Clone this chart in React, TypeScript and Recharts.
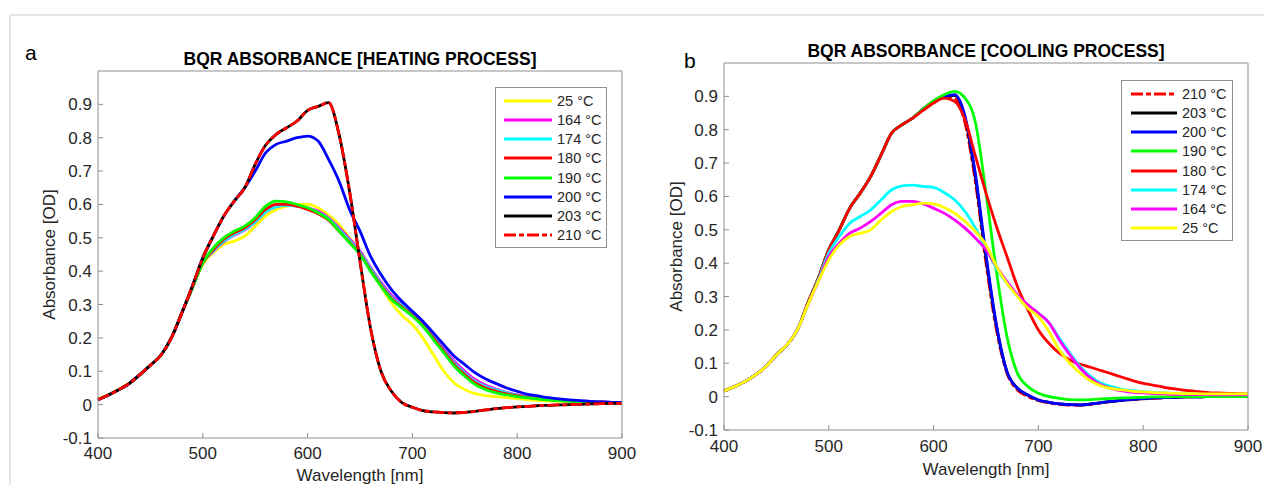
import { LineChart, Line, XAxis, YAxis, Legend } from 'recharts'

const wavelengths = [
  400, 410, 420, 430, 440, 450, 460, 470, 480, 490,
  500, 510, 520, 530, 540, 550, 560, 570, 580, 590,
  600, 610, 620, 630, 640, 650, 660, 670, 680, 690,
  700, 710, 720, 730, 740, 750, 760, 770, 780, 790,
  800, 810, 820, 830, 840, 850, 860, 870, 880, 890,
  900,
]

const xTicks = [400, 500, 600, 700, 800, 900]
const yTicks = [-0.1, 0, 0.1, 0.2, 0.3, 0.4, 0.5, 0.6, 0.7, 0.8, 0.9]

// heating process
const heat25 = [
  0.017, 0.03, 0.046, 0.065, 0.09, 0.118, 0.148, 0.2, 0.275, 0.35,
  0.42, 0.455, 0.48, 0.49, 0.505, 0.535, 0.565, 0.585, 0.595, 0.6,
  0.6, 0.59, 0.568, 0.54, 0.5, 0.46, 0.405, 0.355, 0.305, 0.268,
  0.24, 0.2, 0.15, 0.1, 0.065, 0.045, 0.033, 0.027, 0.024, 0.021,
  0.018, 0.015, 0.013, 0.011, 0.01, 0.009, 0.008, 0.007, 0.007, 0.006,
  0.006,
]
const heat164 = [
  0.015, 0.029, 0.045, 0.064, 0.09, 0.118, 0.148, 0.2, 0.275, 0.35,
  0.425, 0.46, 0.488, 0.508, 0.523, 0.547, 0.577, 0.593, 0.598, 0.595,
  0.59, 0.58, 0.56, 0.53, 0.497, 0.46, 0.412, 0.367, 0.328, 0.302,
  0.277, 0.247, 0.208, 0.168, 0.13, 0.1, 0.075, 0.058, 0.047, 0.037,
  0.029, 0.023, 0.019, 0.016, 0.013, 0.011, 0.01, 0.009, 0.008, 0.007,
  0.006,
]
const heat174 = [
  0.015, 0.029, 0.045, 0.064, 0.09, 0.118, 0.148, 0.2, 0.275, 0.35,
  0.425, 0.462, 0.49, 0.51, 0.525, 0.548, 0.578, 0.593, 0.597, 0.595,
  0.588, 0.576, 0.557, 0.525, 0.492, 0.456, 0.408, 0.362, 0.322, 0.297,
  0.272, 0.242, 0.203, 0.163, 0.124, 0.094, 0.069, 0.054, 0.044, 0.035,
  0.028, 0.022, 0.018, 0.015, 0.013, 0.011, 0.01, 0.009, 0.008, 0.007,
  0.006,
]
const heat180 = [
  0.015, 0.029, 0.045, 0.064, 0.09, 0.118, 0.148, 0.2, 0.275, 0.35,
  0.425, 0.465, 0.495, 0.515, 0.53, 0.555, 0.585, 0.6, 0.6, 0.595,
  0.585, 0.572, 0.553, 0.52, 0.487, 0.452, 0.403, 0.358, 0.318, 0.293,
  0.268, 0.238, 0.2, 0.16, 0.12, 0.09, 0.065, 0.05, 0.04, 0.032,
  0.026, 0.021, 0.018, 0.015, 0.013, 0.011, 0.01, 0.009, 0.008, 0.007,
  0.006,
]
const heat190 = [
  0.015, 0.029, 0.045, 0.064, 0.09, 0.118, 0.148, 0.2, 0.275, 0.35,
  0.425, 0.47, 0.5, 0.52, 0.535, 0.56, 0.595, 0.61, 0.608, 0.6,
  0.59, 0.575, 0.555, 0.52, 0.485, 0.45, 0.4, 0.355, 0.315, 0.29,
  0.265, 0.235, 0.195, 0.155, 0.115, 0.085, 0.06, 0.045, 0.035, 0.029,
  0.024, 0.02, 0.017, 0.014, 0.012, 0.01, 0.009, 0.008, 0.007, 0.006,
  0.006,
]
const heat200 = [
  0.015, 0.029, 0.045, 0.064, 0.09, 0.118, 0.148, 0.2, 0.275, 0.355,
  0.44, 0.505, 0.565, 0.61, 0.65, 0.7, 0.755, 0.78, 0.79, 0.8,
  0.805, 0.79, 0.735, 0.67, 0.585, 0.52, 0.445, 0.39, 0.345, 0.31,
  0.28, 0.25, 0.215, 0.18, 0.145, 0.12, 0.095, 0.077, 0.063, 0.05,
  0.04, 0.031, 0.026, 0.021, 0.017, 0.014, 0.012, 0.01, 0.008, 0.007,
  0.006,
]
const heat203 = [
  0.015, 0.029, 0.045, 0.064, 0.09, 0.118, 0.148, 0.2, 0.275, 0.355,
  0.44, 0.505, 0.565, 0.61, 0.65, 0.72, 0.778, 0.81, 0.83, 0.85,
  0.882, 0.894, 0.905, 0.81, 0.64, 0.43, 0.23, 0.1, 0.04, 0.006,
  -0.008, -0.018, -0.022, -0.024, -0.025, -0.023, -0.02, -0.016, -0.012, -0.009,
  -0.007, -0.005, -0.003, -0.002, -0.001, 0, 0.001, 0.002, 0.003, 0.004,
  0.004,
]
const heat210 = [
  0.015, 0.029, 0.045, 0.064, 0.09, 0.118, 0.148, 0.2, 0.275, 0.355,
  0.44, 0.505, 0.565, 0.61, 0.65, 0.72, 0.778, 0.81, 0.83, 0.85,
  0.882, 0.894, 0.905, 0.81, 0.64, 0.43, 0.23, 0.1, 0.04, 0.006,
  -0.008, -0.018, -0.022, -0.024, -0.025, -0.023, -0.02, -0.016, -0.012, -0.009,
  -0.007, -0.005, -0.003, -0.002, -0.001, 0, 0.001, 0.002, 0.003, 0.004,
  0.004,
]

// cooling process
const cool210 = [
  0.017, 0.03, 0.045, 0.065, 0.09, 0.125, 0.155, 0.2, 0.28, 0.355,
  0.44, 0.5, 0.565, 0.61, 0.66, 0.725, 0.79, 0.815, 0.835, 0.862,
  0.885, 0.897, 0.893, 0.82, 0.64, 0.4, 0.2, 0.07, 0.02, 0,
  -0.012, -0.019, -0.023, -0.025, -0.025, -0.023, -0.019, -0.015, -0.012, -0.009,
  -0.007, -0.005, -0.003, -0.002, -0.001, -0.001, 0, 0, 0, 0,
  0,
]
const cool203 = [
  0.017, 0.03, 0.045, 0.065, 0.09, 0.125, 0.155, 0.2, 0.28, 0.355,
  0.44, 0.5, 0.565, 0.61, 0.66, 0.725, 0.79, 0.815, 0.835, 0.862,
  0.885, 0.898, 0.903, 0.835, 0.655, 0.415, 0.21, 0.075, 0.025, 0.004,
  -0.01, -0.017, -0.022, -0.024, -0.025, -0.022, -0.018, -0.014, -0.011, -0.008,
  -0.006, -0.004, -0.003, -0.002, -0.001, -0.001, 0, 0, 0, 0,
  0,
]
const cool200 = [
  0.017, 0.03, 0.045, 0.065, 0.09, 0.125, 0.155, 0.2, 0.28, 0.355,
  0.44, 0.5, 0.565, 0.61, 0.66, 0.725, 0.79, 0.815, 0.835, 0.862,
  0.885, 0.898, 0.905, 0.84, 0.665, 0.425, 0.215, 0.075, 0.025, 0.005,
  -0.01, -0.017, -0.022, -0.024, -0.025, -0.022, -0.018, -0.014, -0.011, -0.008,
  -0.006, -0.004, -0.003, -0.002, -0.001, -0.001, 0, 0, 0, 0,
  0,
]
const cool190 = [
  0.017, 0.03, 0.045, 0.065, 0.09, 0.125, 0.155, 0.2, 0.28, 0.355,
  0.44, 0.5, 0.565, 0.61, 0.66, 0.725, 0.79, 0.815, 0.835, 0.862,
  0.887, 0.905, 0.915, 0.895, 0.82, 0.61, 0.375, 0.18, 0.07, 0.03,
  0.01, 0, -0.005, -0.009, -0.01, -0.009, -0.007, -0.005, -0.004, -0.003,
  -0.002, -0.001, -0.001, 0, 0, 0, 0, 0, 0, 0,
  0,
]
const cool180 = [
  0.017, 0.03, 0.045, 0.065, 0.09, 0.125, 0.155, 0.2, 0.28, 0.355,
  0.44, 0.5, 0.565, 0.61, 0.66, 0.725, 0.79, 0.815, 0.835, 0.858,
  0.88, 0.895, 0.885, 0.83, 0.72, 0.61, 0.51, 0.42, 0.33, 0.26,
  0.2, 0.16, 0.13, 0.11, 0.097, 0.088, 0.078, 0.068, 0.058, 0.048,
  0.04, 0.034, 0.028, 0.023, 0.019, 0.016, 0.013, 0.011, 0.01, 0.009,
  0.008,
]
const cool174 = [
  0.017, 0.03, 0.045, 0.065, 0.09, 0.125, 0.155, 0.2, 0.275, 0.35,
  0.43, 0.48, 0.52, 0.54, 0.56, 0.59, 0.62, 0.632, 0.634, 0.63,
  0.627, 0.612, 0.59, 0.555, 0.505, 0.445, 0.385, 0.34, 0.3, 0.272,
  0.25, 0.222, 0.175, 0.13, 0.09, 0.06, 0.04, 0.03, 0.022, 0.018,
  0.015, 0.013, 0.011, 0.01, 0.009, 0.008, 0.007, 0.007, 0.006, 0.006,
  0.006,
]
const cool164 = [
  0.017, 0.03, 0.045, 0.065, 0.09, 0.125, 0.155, 0.2, 0.275, 0.345,
  0.42, 0.46, 0.49, 0.505, 0.525, 0.55, 0.575, 0.585, 0.585, 0.578,
  0.565, 0.55, 0.53, 0.505, 0.475, 0.44, 0.39, 0.345, 0.305, 0.275,
  0.25, 0.222, 0.17, 0.125, 0.085, 0.055, 0.035, 0.024, 0.017, 0.013,
  0.011, 0.009, 0.008, 0.007, 0.007, 0.006, 0.006, 0.005, 0.005, 0.005,
  0.005,
]
const cool25 = [
  0.017, 0.03, 0.045, 0.065, 0.09, 0.125, 0.155, 0.2, 0.275, 0.345,
  0.41, 0.455, 0.48, 0.49, 0.5, 0.53, 0.555, 0.57, 0.575, 0.58,
  0.578, 0.567, 0.55, 0.525, 0.495, 0.455, 0.39, 0.34, 0.3, 0.265,
  0.24, 0.195, 0.14, 0.1, 0.07, 0.047, 0.032, 0.024, 0.02, 0.016,
  0.014, 0.012, 0.011, 0.01, 0.009, 0.009, 0.008, 0.008, 0.008, 0.008,
  0.008,
]

type Series = { key: string; name: string; color: string; values: number[]; dash?: string }

const DASH = '12 3 5 3'

// plotting order = legend order
const heatSeries: Series[] = [
  { key: 't25', name: '25 °C', color: '#ffff00', values: heat25 },
  { key: 't164', name: '164 °C', color: '#ff00ff', values: heat164 },
  { key: 't174', name: '174 °C', color: '#00ffff', values: heat174 },
  { key: 't180', name: '180 °C', color: '#ff0000', values: heat180 },
  { key: 't190', name: '190 °C', color: '#00ff00', values: heat190 },
  { key: 't200', name: '200 °C', color: '#0000ff', values: heat200 },
  { key: 't203', name: '203 °C', color: '#000000', values: heat203 },
  { key: 't210', name: '210 °C', color: '#ff0000', values: heat210, dash: DASH },
]

const coolSeries: Series[] = [
  { key: 't210', name: '210 °C', color: '#ff0000', values: cool210, dash: DASH },
  { key: 't203', name: '203 °C', color: '#000000', values: cool203 },
  { key: 't200', name: '200 °C', color: '#0000ff', values: cool200 },
  { key: 't190', name: '190 °C', color: '#00ff00', values: cool190 },
  { key: 't180', name: '180 °C', color: '#ff0000', values: cool180 },
  { key: 't174', name: '174 °C', color: '#00ffff', values: cool174 },
  { key: 't164', name: '164 °C', color: '#ff00ff', values: cool164 },
  { key: 't25', name: '25 °C', color: '#ffff00', values: cool25 },
]

function buildRows(series: Series[]) {
  return wavelengths.map((w, i) => {
    const row: Record<string, number> = { w }
    series.forEach((s) => {
      row[s.key] = s.values[i]
    })
    return row
  })
}

const FONT = '"Liberation Sans", Arial, Helvetica, sans-serif'
const AXIS = '#8f8f8f'
const TEXT = '#262626'

const fmtY = (v: number) => String(Math.round(v * 10) / 10)

function LegendBox({ series, pad, sample }: { series: Series[]; pad: number; sample: number }) {
  return (
    <div
      style={{
        border: `1px solid ${AXIS}`,
        background: '#fff',
        paddingTop: 3,
        paddingBottom: 2,
        fontFamily: FONT,
        fontSize: 14.5,
        color: TEXT,
      }}
    >
      {series.map((s) => (
        <div key={s.key} style={{ display: 'flex', alignItems: 'center', height: 19.25 }}>
          <svg width={sample + pad + 5} height={8} style={{ display: 'block' }}>
            <line
              x1={pad}
              x2={pad + sample}
              y1={4}
              y2={4}
              stroke={s.color}
              strokeWidth={3}
              strokeDasharray={s.dash}
            />
          </svg>
          <span style={{ whiteSpace: 'nowrap' }}>{s.name}</span>
        </div>
      ))}
    </div>
  )
}

function Panel({
  series,
  width,
  margin,
  xTickMargin,
  xLabelOffset,
  yLabelOffset,
  legendPos,
  legendPad,
  legendSample,
}: {
  series: Series[]
  width: number
  margin: { top: number; right: number; bottom: number; left: number }
  xTickMargin: number
  xLabelOffset: number
  yLabelOffset: number
  legendPos: { left: number; top: number }
  legendPad: number
  legendSample: number
}) {
  const rows = buildRows(series)
  return (
    <LineChart width={width} height={485} data={rows} margin={margin}>
      <XAxis
        dataKey="w"
        type="number"
        domain={[400, 900]}
        ticks={xTicks}
        height={30}
        stroke={AXIS}
        tickSize={-5}
        tickMargin={xTickMargin}
        tick={{ fill: TEXT, fontSize: 17 }}
        label={{ value: 'Wavelength [nm]', position: 'bottom', offset: xLabelOffset, fill: TEXT, fontSize: 17 }}
      />
      <XAxis
        xAxisId="top"
        orientation="top"
        dataKey="w"
        type="number"
        domain={[400, 900]}
        ticks={xTicks}
        height={1}
        stroke={AXIS}
        tickSize={-5}
        tick={false}
      />
      <YAxis
        type="number"
        domain={[-0.1, 1]}
        ticks={yTicks}
        width={40}
        stroke={AXIS}
        tickSize={-5}
        tickMargin={11}
        tickFormatter={fmtY}
        tick={{ fill: TEXT, fontSize: 17 }}
        label={{
          value: 'Absorbance [OD]',
          angle: -90,
          position: 'insideLeft',
          offset: yLabelOffset,
          fill: TEXT,
          fontSize: 17,
          style: { textAnchor: 'middle' },
        }}
      />
      <YAxis
        yAxisId="right"
        orientation="right"
        type="number"
        domain={[-0.1, 1]}
        ticks={yTicks}
        width={1}
        stroke={AXIS}
        tickSize={-5}
        tick={false}
      />
      {series.map((s) => (
        <Line
          key={s.key}
          type="monotone"
          dataKey={s.key}
          name={s.name}
          stroke={s.color}
          strokeWidth={2.8}
          strokeDasharray={s.dash}
          dot={false}
          activeDot={false}
          isAnimationActive={false}
        />
      ))}
      <Legend
        layout="vertical"
        align="center"
        verticalAlign="middle"
        wrapperStyle={{ left: legendPos.left, top: legendPos.top, width: 112 }}
        content={() => <LegendBox series={series} pad={legendPad} sample={legendSample} />}
      />
    </LineChart>
  )
}

export default function App() {
  return (
    <div
      style={{
        position: 'absolute',
        left: 0,
        top: 0,
        width: 1264,
        height: 485,
        background: '#fff',
        fontFamily: FONT,
        overflow: 'hidden',
      }}
    >
      <div
        style={{
          position: 'absolute',
          left: 9,
          top: 14,
          width: 1264,
          height: 480,
          borderTop: '2px solid #e6e6e6',
          borderLeft: '2px solid #e6e6e6',
        }}
      />

      <div style={{ position: 'absolute', left: 0, top: 0 }}>
        <Panel
          series={heatSeries}
          width={640}
          margin={{ top: 70, right: 17, bottom: 17, left: 58 }}
          xTickMargin={14}
          xLabelOffset={1}
          yLabelOffset={-9}
          legendPos={{ left: 495, top: 87 }}
          legendPad={8}
          legendSample={48}
        />
      </div>
      <div style={{ position: 'absolute', left: 640, top: 0 }}>
        <Panel
          series={coolSeries}
          width={624}
          margin={{ top: 62, right: 15, bottom: 25, left: 44 }}
          xTickMargin={15}
          xLabelOffset={3}
          yLabelOffset={-8}
          legendPos={{ left: 481, top: 80 }}
          legendPad={9}
          legendSample={46}
        />
      </div>

      <div style={{ position: 'absolute', left: 25, top: 42, fontSize: 21, lineHeight: 1, color: '#000' }}>a</div>
      <div style={{ position: 'absolute', left: 684, top: 50, fontSize: 21, lineHeight: 1, color: '#000' }}>b</div>

      <div
        style={{
          position: 'absolute',
          left: 110,
          width: 500,
          top: 51,
          textAlign: 'center',
          fontSize: 17.5,
          lineHeight: 1,
          fontWeight: 'bold',
          color: '#000',
        }}
      >
        BQR ABSORBANCE [HEATING PROCESS]
      </div>
      <div
        style={{
          position: 'absolute',
          left: 736,
          width: 500,
          top: 43,
          textAlign: 'center',
          fontSize: 17.5,
          lineHeight: 1,
          fontWeight: 'bold',
          color: '#000',
        }}
      >
        BQR ABSORBANCE [COOLING PROCESS]
      </div>
    </div>
  )
}
